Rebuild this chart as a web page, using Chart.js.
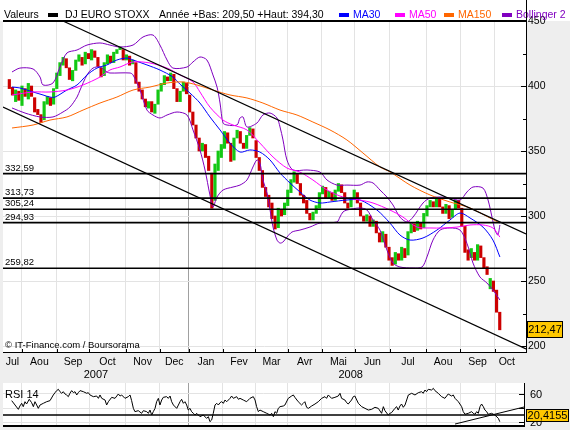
<!DOCTYPE html>
<html><head><meta charset="utf-8">
<script src="https://cdn.jsdelivr.net/npm/chart.js@4.4.0/dist/chart.umd.min.js"></script>
<style>
html,body{margin:0;padding:0;background:#eeeeee;}
#wrap{position:relative;width:570px;height:430px;overflow:hidden;background:#eeeeee;}
#c1{position:absolute;left:0;top:0;}
#c2{position:absolute;left:0;top:380px;}
</style></head><body>
<div id="wrap"><canvas id="c1" width="570" height="385"></canvas><canvas id="c2" width="570" height="50"></canvas></div>
<script>
// ---------- DATA ----------
const seriesName = 'DJ EURO STOXX';
const yearLow = 209.50, yearHigh = 394.30;
const lastClose = 212.47;
const rsiLast = 20.4155;
const rsiLevel = 30;
const monthNames = ['Jul','Aou','Sep','Oct','Nov','Dec','Jan','Fev','Mar','Avr','Mai','Jun','Jul','Aou','Sep','Oct'];
// session index (trading day, 0 = 1 Aug 2007) at which Aug07 ... Oct08 begin
const monthStarts = [0, 22, 42.5, 65.5, 87, 105.5, 127, 147.5, 168, 189.5, 210.5, 232.5, 255.5, 277, 299];
const janIndex = 5;
const yearNames = ['2007','2008'];
const xMin = -12, xMax = 318.6, xMaxRsi = 317.3, lastMonthEnd = 314;
const yMin = 195.4, yMax = 450;
const yTicks = [200,225,250,275,300,325,350,375,400,425,450];
const rsiMin = 14.3, rsiMax = 75.7;
const rsiTicks = [20,40,60];
const rsiLabels = [20,60];
const supportLevels = [332.59, 313.73, 305.24, 294.93, 259.82];

// candles every 2 sessions starting at session -8
const candleFirst = -8, candleStep = 2;
const opens = [
 405,399,388,396,
 385,398,390,400,391,382,378,374,386,391,386,398,
 408,416,421,414,404,412,419,422,417,425,
 420,427,422,414,408,417,423,418,425,428,428,
 420,423,417,418,403,397,390,383,388,379,386,
 396,401,407,404,409,398,388,396,402,
 393,380,370,360,350,355,346,333,312,335,345,
 352,364,356,343,360,365,356,352,362,367,
 358,345,335,322,316,310,300,291,305,301,308,
 318,326,332,325,316,312,302,297,302,306,
 317,322,314,318,312,319,324,318,310,307,313,
 318,310,300,296,300,292,296,287,280,286,276,
 268,263,271,266,275,270,287,294,289,295,291,
 300,307,311,307,313,307,302,308,299,305,312,
 306,292,274,268,272,266,277,268,261,244,250,
 243,226];
const closes = [
 398,393,397,389,
 400,392,402,392,380,378,372,388,392,385,398,410,
 418,422,414,405,412,420,424,416,426,421,
 428,422,415,407,418,424,418,426,428,430,420,
 424,416,420,402,396,390,384,388,380,386,397,
 402,408,404,410,398,388,396,403,394,
 380,370,360,350,356,345,335,306,340,350,355,
 365,356,342,360,366,356,352,362,368,360,
 345,335,322,315,307,298,290,306,300,310,320,
 328,334,325,316,310,302,297,303,308,318,
 323,314,319,312,320,325,318,310,306,314,320,
 310,300,296,301,292,297,287,280,288,276,266,
 262,272,266,276,268,288,295,288,296,290,302,
 308,312,307,314,307,302,309,298,305,312,306,
 292,272,266,275,266,278,268,260,255,252,242,
 226,212.47];

const ma30 = [[-6.3,399.2],[-1.3,398.5],[7,395.4],[13.3,393.1],[17.7,391.5],[20.9,391.5],[28.4,396.9],[34.8,400.8],[41.1,408.5],[47.4,413.8],[53.7,416.2],[60,420],[66.4,421.5],[70.2,420],[79,416.2],[87.2,412.3],[95.4,406.9],[99.8,401.5],[106.2,394.6],[112.5,386.9],[118.8,376.2],[125.2,366.2],[131.5,356.1],[137.8,349.2],[144.1,350.8],[150.4,349.2],[156.8,343.1],[163.1,333.1],[169.4,325.4],[175.7,318.5],[182,312.3],[188.4,310],[194.7,310.8],[205.4,312.3],[213.7,312.3],[224.4,304.6],[232.6,294.6],[238.9,285.4],[245.3,281.5],[253.5,283.1],[262.3,289.2],[270.5,296.9],[276.9,302.3],[283.2,298.5],[291.4,291.5],[297.7,281.5],[302.1,268.5]];
const ma50 = [[-6.3,393.1],[7,395.4],[17.7,395.4],[28.4,396.9],[38.6,400.8],[49.3,406.9],[55.6,412.3],[61.9,414.6],[70.2,418.5],[80.9,417.7],[91.7,413.8],[99.9,408.5],[108.1,403.1],[112.5,395.4],[118.8,383.8],[127.1,373.8],[133.4,370],[142.2,366.2],[150.4,356.1],[158.7,345.4],[167.5,336.9],[175.7,333.8],[183.9,327.7],[192.8,320],[202.9,314.6],[213.7,312.3],[221.9,310],[232.6,304.6],[240.8,299.2],[249.7,291.5],[257.9,290.8],[266.1,290.8],[275,291.5],[283.2,293.1],[291.4,293.1],[297.7,290.8],[302.1,283.8]];
const ma150 = [[-6.3,367.7],[7,370],[17.7,373.8],[28.4,376.2],[38.6,381.5],[49.3,386.9],[60,391.5],[70.2,396.9],[80.9,399.2],[91.7,402.3],[101.8,403.1],[110.6,400.8],[120.7,396.9],[131.5,393.1],[142.2,390.8],[152.3,386.9],[163.1,381.5],[173.8,377.7],[183.9,372.3],[194.7,366.2],[205.4,358.5],[215.5,348.5],[226.3,337.7],[232.6,334],[245.3,323.8],[257.9,316.2],[270.5,310.8],[283.2,306.2],[295.8,298.5],[302.1,294.6]];
const bbUp = [[-6.3,410.8],[-1.3,413.8],[7,413.1],[11.4,406.9],[13.3,400.8],[19.6,402.3],[24,414.6],[28.4,425.4],[34.8,427.7],[41.1,431.5],[49.3,433.1],[55.6,431.5],[61.9,430],[70.2,431.5],[76.5,437.7],[82.8,439.2],[87.2,431.5],[91.7,420],[95.4,413.8],[104.3,414.6],[108.1,418.5],[112.5,422.3],[116.9,420],[120.7,408.5],[123.3,399.2],[125.2,386.9],[127.1,371.5],[129.6,370],[135.9,370],[137.8,375.4],[139.7,376.2],[142.2,368.5],[148.5,371.5],[152.3,377.7],[156.8,379.2],[161.2,375.4],[163.1,368.5],[165,358.5],[167.5,343.1],[171.3,335.4],[180.2,335.4],[188.4,333.8],[192.8,327.7],[199.1,323.8],[205.4,323.8],[213.7,323.8],[218.1,326.2],[221.9,325.4],[226.3,320],[230.7,314.6],[234.5,308.5],[238.9,299.2],[243.4,295.4],[247.2,299.2],[253.5,310],[257.9,313.8],[264.3,314.6],[270.5,313.8],[276.9,312.3],[281.3,318.5],[285.1,322.3],[291.4,321.5],[294.6,312.3],[297.1,299.2],[299,289.2],[300.8,285.4],[302.1,293.1]];
const bbLow = [[-6.3,383.1],[1.9,379.2],[11.4,376.2],[19.6,376.2],[25.9,380],[30.3,383.8],[34.8,391.5],[36.7,396.9],[41.1,408.5],[44.9,413.8],[49.3,414.6],[53.7,410.8],[55.6,410],[68.3,410],[70.2,408.5],[74.6,396.9],[79,381.5],[82.8,377.7],[87.2,375.4],[91.7,377.7],[98,380],[104.3,377.7],[108.1,366.2],[112.5,350.8],[115.7,335.4],[118.8,316.2],[120.7,306.9],[123.3,314.6],[127.1,320],[133.4,322.3],[137.8,323.8],[142.2,327.7],[146,337.7],[148.5,343.1],[150.4,340.8],[152.3,327.7],[154.9,317.7],[156.8,304.6],[158.7,291.5],[161.2,281.5],[163.1,279.2],[165,280],[167.5,283.8],[170.7,287.7],[175.7,289.2],[182,291.5],[188.4,294.6],[199.1,295.4],[201,299.2],[202.9,303.1],[205.4,304.6],[213.7,306.2],[218.1,304.6],[221.9,296.9],[226.3,289.2],[230.7,273.8],[234.5,263.8],[238.9,260.8],[247.2,260],[252.9,260.8],[256,268.5],[259.8,281.5],[264.3,289.2],[270.5,290.8],[276.9,289.2],[281.3,278.9],[285.1,263.8],[289.5,253.1],[293.9,248.5],[297.7,243.1],[302.1,235.4]];
const upperChannel = [[25.9,450],[318.6,286.2]];
const lowerChannel = [[-12,383.8],[318.6,197.7]];

const rsi = [[-6.5,50.5],[-4.4,44.3],[-2.3,38.1],[-1.3,42.9],[-0.2,46.7],[0.8,41.9],[1.9,49.0],[2.9,45.7],[4.6,52.4],[6.1,47.6],[7.2,41.9],[8.2,49.0],[9.3,44.3],[10.3,39.5],[11.4,44.3],[13.5,46.7],[15.6,49.0],[17.7,50.5],[19.8,58.6],[20.9,61.9],[21.9,64.8],[23.0,66.7],[24.0,63.3],[25.1,61.0],[26.1,63.3],[27.2,60.0],[28.2,58.6],[29.3,56.2],[30.3,61.0],[31.4,64.8],[32.5,61.9],[33.5,63.3],[34.6,58.6],[35.6,61.9],[36.7,64.8],[38.8,63.3],[40.9,61.0],[41.9,61.9],[43.0,58.6],[45.1,56.2],[47.2,57.1],[48.3,53.8],[49.3,58.6],[50.4,53.8],[52.5,51.4],[53.5,44.3],[54.6,49.0],[56.7,55.2],[58.8,53.8],[60.9,60.0],[62.0,57.1],[63.0,58.6],[65.1,53.8],[67.2,56.2],[68.3,58.6],[69.3,50.5],[70.4,39.5],[71.4,34.8],[73.5,36.2],[75.6,32.4],[76.7,36.2],[78.8,34.8],[79.9,32.4],[80.9,37.1],[82.0,30.0],[83.0,34.8],[84.1,39.5],[85.1,49.0],[86.2,53.8],[87.2,44.3],[88.3,51.4],[89.3,55.2],[91.4,56.2],[92.5,53.8],[93.6,57.1],[94.6,49.0],[95.7,44.3],[97.8,39.5],[99.9,49.0],[100.9,52.4],[102.0,46.7],[103.0,49.0],[104.1,44.3],[105.1,37.1],[106.2,39.5],[107.2,34.8],[108.3,32.4],[109.4,30.0],[110.4,32.4],[112.5,27.6],[114.6,30.0],[116.7,25.2],[117.8,27.6],[118.8,20.5],[119.9,22.9],[120.9,32.4],[122.0,44.3],[123.1,46.7],[124.1,44.3],[125.2,47.6],[126.2,49.0],[127.3,46.7],[128.3,51.4],[129.4,49.0],[131.5,53.8],[132.5,57.1],[133.6,53.8],[135.7,56.2],[136.8,52.4],[137.8,53.8],[139.9,51.4],[142.0,49.0],[144.1,53.8],[146.2,56.2],[147.3,51.4],[148.3,41.9],[149.4,34.8],[150.4,37.1],[152.5,34.8],[154.7,32.4],[156.8,30.0],[157.8,32.4],[158.9,27.6],[159.9,34.8],[161.0,32.4],[162.0,39.5],[163.1,41.9],[165.2,42.9],[166.2,44.3],[168.3,53.8],[170.4,57.1],[171.5,58.6],[172.5,55.2],[174.6,49.0],[176.7,44.3],[177.8,46.7],[178.8,49.0],[179.9,41.0],[181.0,39.5],[183.1,42.9],[185.2,45.7],[187.3,49.0],[189.4,53.8],[191.5,56.2],[192.5,53.8],[193.6,58.6],[195.7,53.8],[197.8,55.2],[199.9,57.1],[201.0,61.0],[202.0,53.8],[204.1,51.4],[205.2,47.6],[206.2,45.7],[208.3,51.4],[209.4,56.2],[210.4,57.1],[212.6,46.7],[214.7,41.9],[216.8,39.5],[218.9,37.1],[221.0,38.1],[223.1,41.0],[225.2,39.5],[227.3,32.4],[228.4,41.9],[229.4,36.2],[231.5,30.0],[232.6,32.4],[233.6,33.4],[235.7,39.5],[236.8,41.9],[237.8,37.1],[238.9,42.9],[239.9,45.7],[241.0,41.0],[242.1,44.3],[244.2,58.6],[246.3,61.0],[248.4,58.6],[250.5,61.9],[252.6,63.3],[253.6,61.0],[254.7,65.7],[255.7,63.3],[256.8,66.7],[258.9,65.7],[260.0,68.1],[261.0,64.8],[263.1,61.0],[265.2,56.2],[267.3,53.8],[269.4,60.0],[271.5,57.1],[272.6,58.6],[273.7,53.8],[275.8,49.0],[277.9,41.9],[278.9,34.8],[280.0,31.0],[282.1,32.4],[284.2,34.8],[285.2,32.4],[286.3,31.0],[287.4,34.8],[288.4,32.4],[289.5,41.9],[290.5,45.7],[291.6,41.9],[292.6,37.1],[293.7,34.8],[294.7,31.0],[296.8,32.4],[298.9,30.0],[301.1,25.2],[302,20.4155]];
const rsiTrend = [[273.7,17.1],[317.3,41.4]];

// ---------- HELPERS ----------
const FONT = '"Liberation Sans", Arial, sans-serif';
const fmt = (v,d) => v.toFixed(d).replace('.', ',');
const pts = arr => arr.map(p => ({x:p[0], y:p[1]}));
const lineDs = (arr, color, order, width) => ({type:'line', data:pts(arr), borderColor:color, borderWidth:width||1, pointRadius:0, tension:0.3, fill:false, order:order});
const gridColor = c => (c.tick && c.tick.value === monthStarts[janIndex]) ? '#a0a0a0' : '#e3e3e3';
const monthCenters = monthNames.map((n,i) => {
  const s = i === 0 ? xMin : monthStarts[i-1];
  const e = i === monthNames.length-1 ? lastMonthEnd : monthStarts[i];
  return (s+e)/2;
});
const yearCenters = [(xMin + monthStarts[janIndex])/2, (monthStarts[janIndex] + 310)/2];

const candleData = opens.map((o,i) => ({x: candleFirst + i*candleStep, y:[Math.min(o,closes[i]), Math.max(o,closes[i])]}));
const candleColors = opens.map((o,i) => closes[i] >= o ? '#14c814' : '#cc0000');

const hLine = (v, xa, xb) => [[xa, v],[xb, v]];

// ---------- MAIN CHART ----------
const mainPlugin = {
  id:'mainDeco',
  beforeDraw(chart){
    const {ctx, chartArea:a} = chart;
    ctx.save();
    ctx.fillStyle = '#ffffff';
    ctx.fillRect(0, 0, chart.width, a.top);
    ctx.fillRect(a.left, a.top, a.right-a.left, a.bottom-a.top);
    ctx.restore();
  },
  afterDraw(chart){
    const {ctx, chartArea:a, scales:{x, y}} = chart;
    ctx.save();
    ctx.fillStyle = '#000';
    // support labels
    ctx.font = '9.5px ' + FONT; ctx.textAlign = 'left'; ctx.textBaseline = 'alphabetic';
    supportLevels.forEach(v => ctx.fillText(fmt(v,2), a.left+2, Math.round(y.getPixelForValue(v)) - 3));
    ctx.fillText('\u00A9 IT-Finance.com / Boursorama', a.left+2, a.bottom-4);
    // frame
    ctx.fillRect(a.left, a.top-1, a.right-a.left, 2);
    ctx.fillRect(a.right, 0, 1, a.bottom+1);
    ctx.fillRect(a.left, a.bottom, a.right-a.left, 1);
    yTicks.forEach(v => {
      const py = Math.round(y.getPixelForValue(v));
      const len = v % 50 === 0 ? 5 : 3;
      ctx.fillRect(a.right-len, py, len, 1);
    });
    monthStarts.forEach(s => ctx.fillRect(Math.round(x.getPixelForValue(s)), a.bottom-3, 1, 3));
    // y labels
    ctx.font = '10.5px ' + FONT; ctx.textBaseline = 'middle';
    yTicks.filter(v => v % 50 === 0).forEach(v => ctx.fillText(String(v), a.right+2, y.getPixelForValue(v)+0.5));
    // month + year labels
    ctx.textAlign = 'center';
    ctx.font = '10.5px ' + FONT;
    monthNames.forEach((n,i) => ctx.fillText(n, x.getPixelForValue(monthCenters[i]), 362));
    ctx.font = '11px ' + FONT;
    yearNames.forEach((n,i) => ctx.fillText(n, x.getPixelForValue(yearCenters[i]), 375));
    // price tag
    const py = y.getPixelForValue(lastClose);
    ctx.fillStyle = '#ffc800';
    ctx.fillRect(527, Math.round(py-8.5), 36, 17);
    ctx.strokeStyle = '#000'; ctx.lineWidth = 1;
    ctx.strokeRect(527.5, Math.round(py-8.5)+0.5, 35, 16);
    ctx.fillStyle = '#000'; ctx.font = '11px ' + FONT;
    ctx.fillText(fmt(lastClose,2), 545, py+0.5);
    // header
    ctx.textAlign = 'left'; ctx.textBaseline = 'alphabetic'; ctx.font = '10.5px ' + FONT;
    ctx.fillText('Valeurs', 4, 18);
    ctx.fillRect(48, 13, 10, 4);
    ctx.fillText(seriesName, 65, 18);
    ctx.fillText('Ann\u00e9e +Bas: ' + fmt(yearLow,2) + ' +Haut: ' + fmt(yearHigh,2), 159, 18);
    const leg = [['MA30','#0000ff',339],['MA50','#ff00ff',395],['MA150','#ff6600',444],['Bollinger 2','#8000c0',502]];
    leg.forEach(l => { ctx.fillStyle = l[1]; ctx.fillRect(l[2], 13, 10, 4); ctx.fillText(l[0], l[2]+14, 18); });
    ctx.fillStyle = '#000';
    ctx.fillRect(a.right, 0, 1, a.top);
    ctx.restore();
  }
};

const mainDatasets = [
  {type:'bar', data:candleData, backgroundColor:candleColors, borderWidth:0, barThickness:2.5, grouped:false, order:9},
  lineDs(bbUp, '#8000c0', 6),
  lineDs(bbLow, '#8000c0', 6),
  lineDs(ma150, '#ff6600', 5),
  lineDs(ma50, '#ff00ff', 5),
  lineDs(ma30, '#0000ff', 5),
  {type:'line', data:pts(upperChannel), borderColor:'#000', borderWidth:1.2, pointRadius:0, order:2},
  {type:'line', data:pts(lowerChannel), borderColor:'#000', borderWidth:1.2, pointRadius:0, order:2}
].concat(supportLevels.map(v => ({type:'line', data:pts(hLine(v, xMin, xMax)), borderColor:'#000', borderWidth:1.6, pointRadius:0, order:1})));

new Chart(document.getElementById('c1'), {
  type:'line',
  data:{datasets:mainDatasets},
  options:{
    responsive:false, animation:false, events:[], devicePixelRatio:1,
    layout:{padding:{left:3, top:21, right:0, bottom:0}},
    plugins:{legend:{display:false}, tooltip:{enabled:false}},
    scales:{
      x:{type:'linear', min:xMin, max:xMax, offset:false,
         afterBuildTicks:s => { s.ticks = monthStarts.map(v => ({value:v})); },
         afterFit:s => { s.height = 33; },
         ticks:{display:false},
         grid:{offset:false, drawTicks:false, color:gridColor, lineWidth:1},
         border:{display:false}},
      y:{type:'linear', position:'right', min:yMin, max:yMax,
         afterBuildTicks:s => { s.ticks = yTicks.map(v => ({value:v})); },
         afterFit:s => { s.width = 44; },
         ticks:{display:false},
         grid:{drawTicks:false, color:c => (c.tick && c.tick.value % 50 === 0) ? '#e3e3e3' : 'rgba(0,0,0,0)'},
         border:{display:false}}
    }
  },
  plugins:[mainPlugin]
});

// ---------- RSI CHART ----------
const rsiPlugin = {
  id:'rsiDeco',
  beforeDraw(chart){
    const {ctx, chartArea:a} = chart;
    ctx.save(); ctx.fillStyle = '#fff';
    ctx.fillRect(a.left, a.top, a.right-a.left, a.bottom-a.top);
    ctx.restore();
  },
  afterDraw(chart){
    const {ctx, chartArea:a, scales:{y}} = chart;
    ctx.save();
    ctx.fillStyle = '#000';
    ctx.fillRect(a.left, a.bottom-1, a.right-a.left, 2);
    ctx.fillRect(a.right, a.top, 1, a.bottom-a.top+1);
    ctx.font = '11px ' + FONT; ctx.textBaseline = 'middle'; ctx.textAlign = 'left';
    rsiTicks.forEach(v => {
      const py = Math.round(y.getPixelForValue(v));
      ctx.fillRect(a.right-5, py, 5, 1);
    });
    rsiLabels.forEach(v => ctx.fillText(String(v), a.right+6, Math.round(y.getPixelForValue(v))+0.5));
    ctx.textBaseline = 'alphabetic';
    ctx.fillText('RSI ' + 14, a.left+2, 17.5);
    // value tag
    const py = Math.min(y.getPixelForValue(rsiLast), a.bottom - 10.5);
    ctx.fillStyle = '#ffc800';
    ctx.fillRect(a.right+2, Math.round(py-6.5), 43, 13);
    ctx.strokeStyle = '#000'; ctx.lineWidth = 1;
    ctx.strokeRect(a.right+2.5, Math.round(py-6.5)+0.5, 42, 12);
    ctx.fillStyle = '#000'; ctx.textAlign = 'center'; ctx.textBaseline = 'middle';
    ctx.fillText(fmt(rsiLast,4), a.right+23.5, py+0.5);
    ctx.restore();
  }
};

new Chart(document.getElementById('c2'), {
  type:'line',
  data:{datasets:[
    {data:pts(rsi), borderColor:'#000', borderWidth:1, pointRadius:0, tension:0, order:3},
    {data:pts(hLine(rsiLevel, xMin, xMaxRsi)), borderColor:'#000', borderWidth:1.5, pointRadius:0, order:2},
    {data:pts(rsiTrend), borderColor:'#000', borderWidth:1, pointRadius:0, order:1}
  ]},
  options:{
    responsive:false, animation:false, events:[], devicePixelRatio:1,
    layout:{padding:{left:3, top:3, right:0, bottom:0}},
    plugins:{legend:{display:false}, tooltip:{enabled:false}},
    scales:{
      x:{type:'linear', min:xMin, max:xMaxRsi, offset:false,
         afterBuildTicks:s => { s.ticks = monthStarts.map(v => ({value:v})); },
         afterFit:s => { s.height = 4; },
         ticks:{display:false},
         grid:{offset:false, drawTicks:false, color:gridColor},
         border:{display:false}},
      y:{type:'linear', position:'right', min:rsiMin, max:rsiMax,
         afterBuildTicks:s => { s.ticks = rsiTicks.map(v => ({value:v})); },
         afterFit:s => { s.width = 46; },
         ticks:{display:false},
         grid:{drawTicks:false, color:'#e3e3e3'},
         border:{display:false}}
    }
  },
  plugins:[rsiPlugin]
});
</script>
</body></html>
